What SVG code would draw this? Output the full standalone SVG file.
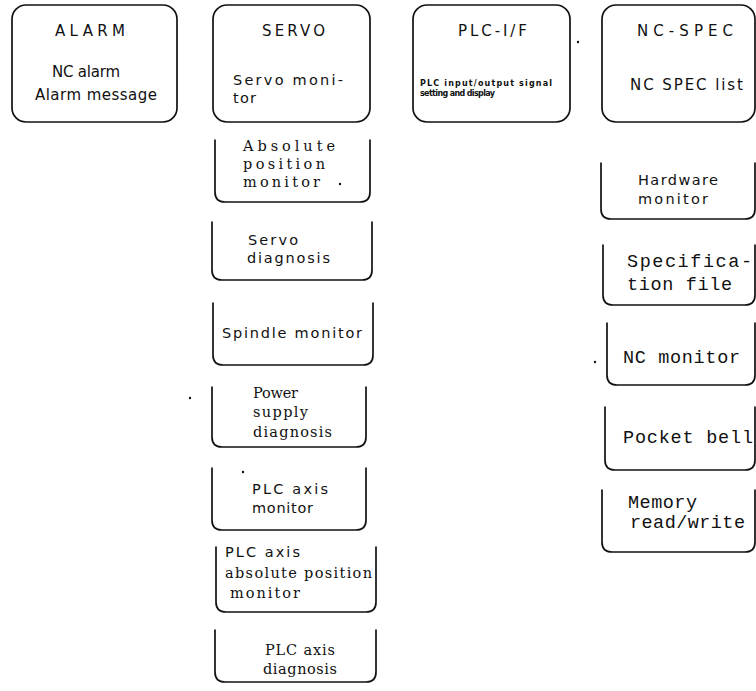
<svg xmlns="http://www.w3.org/2000/svg" width="756" height="691" viewBox="0 0 756 691">
<style>
.box{fill:none;stroke:#111;stroke-width:1.7;stroke-linejoin:round;stroke-linecap:round}
text{fill:#111}
.h{font-family:"DejaVu Sans",sans-serif;font-size:15px}
.a{font-family:"DejaVu Sans",sans-serif;font-size:15px}
.s{font-family:"DejaVu Sans",sans-serif;font-size:14.5px}
.r{font-family:"DejaVu Serif",serif;font-size:14.5px}
.m{font-family:"Liberation Mono",monospace;font-size:18.5px}
.t{font-family:"DejaVu Sans",sans-serif;font-size:8px;font-weight:bold}
.dot{fill:#111}
</style>
<rect width="756" height="691" fill="#fff"/>
<g id="alarm">
<rect class="box" x="12" y="5" width="165" height="117" rx="14"/>
<text class="h" x="55" y="36" textLength="70">ALARM</text>
<text class="a" x="52" y="77" textLength="68">NC alarm</text>
<text class="a" x="35" y="100" textLength="122">Alarm message</text>
</g>
<g id="servo">
<rect class="box" x="213" y="5" width="157" height="117" rx="14"/>
<text class="h" x="262" y="36" textLength="63">SERVO</text>
<text class="s" x="233" y="85" textLength="110">Servo  moni-</text>
<text class="s" x="233" y="103" textLength="23">tor</text>
</g>
<g id="plc-if">
<rect class="box" x="413" y="5" width="157" height="117" rx="14"/>
<text class="h" x="458" y="36" textLength="69">PLC-I/F</text>
<text class="t" x="420" y="86" textLength="132">PLC input/output signal</text>
<text class="t" x="420" y="96" textLength="75">setting and display</text>
</g>
<g id="nc-spec">
<rect class="box" x="602" y="5" width="153" height="117" rx="14"/>
<text class="h" x="637" y="36" textLength="96">NC-SPEC</text>
<text class="a" x="630" y="90" textLength="113">NC SPEC list</text>
</g>
<g id="absolute-position-monitor">
<path class="box" d="M215 140V192Q215 202 225 202H360Q370 202 370 192V140"/>
<text class="r" x="243" y="151" textLength="92">Absolute</text>
<text class="r" x="243" y="169" textLength="82">position</text>
<text class="r" x="243" y="187" textLength="77">monitor</text>
<circle class="dot" cx="340" cy="184" r="1.2"/>
</g>
<g id="servo-diagnosis">
<path class="box" d="M212 222V270Q212 280 222 280H362Q372 280 372 270V222"/>
<text class="s" x="248" y="245" textLength="50">Servo</text>
<text class="s" x="247" y="263" textLength="83">diagnosis</text>
</g>
<g id="spindle-monitor">
<path class="box" d="M213 303V355Q213 365 223 365H363Q373 365 373 355V303"/>
<text class="s" x="222" y="338" textLength="140">Spindle monitor</text>
</g>
<g id="power-supply-diagnosis">
<path class="box" d="M212 387V437Q212 447 222 447H356Q366 447 366 437V387"/>
<text class="r" x="253" y="398" textLength="45">Power</text>
<text class="r" x="253" y="417" textLength="55">supply</text>
<text class="r" x="253" y="437" textLength="79">diagnosis</text>
<circle class="dot" cx="190" cy="398" r="1.2"/>
</g>
<g id="plc-axis-monitor">
<path class="box" d="M212 468V520Q212 530 222 530H356Q366 530 366 520V468"/>
<text class="s" x="252" y="494" textLength="76">PLC axis</text>
<text class="s" x="252" y="513" textLength="61">monitor</text>
<circle class="dot" cx="243" cy="472" r="1.2"/>
</g>
<g id="plc-axis-absolute-position-monitor">
<path class="box" d="M216 547V602Q216 612 226 612H366Q376 612 376 602V547"/>
<text class="s" x="225" y="557" textLength="75">PLC axis</text>
<text class="r" x="225" y="578" textLength="147">absolute position</text>
<text class="r" x="230" y="598" textLength="70">monitor</text>
</g>
<g id="plc-axis-diagnosis">
<path class="box" d="M215 630V672Q215 682 225 682H366Q376 682 376 672V630"/>
<text class="r" x="265" y="655" textLength="70">PLC axis</text>
<text class="r" x="263" y="674" textLength="74">diagnosis</text>
</g>
<g id="hardware-monitor">
<path class="box" d="M601 163V209Q601 219 611 219H745Q755 219 755 209V163"/>
<text class="s" x="638" y="185" textLength="80">Hardware</text>
<text class="s" x="638" y="204" textLength="70">monitor</text>
</g>
<g id="specification-file">
<path class="box" d="M603 245V295Q603 305 613 305H745Q755 305 755 295V245"/>
<text class="m" x="627" y="267" textLength="125">Specifica-</text>
<text class="m" x="627" y="290" textLength="105">tion file</text>
</g>
<g id="nc-monitor">
<path class="box" d="M607 323V375Q607 385 617 385H745Q755 385 755 375V323"/>
<text class="m" x="623" y="363" textLength="117">NC monitor</text>
<circle class="dot" cx="595" cy="362" r="1.2"/>
</g>
<g id="pocket-bell">
<path class="box" d="M605 407V460Q605 470 615 470H745Q755 470 755 460V407"/>
<text class="m" x="623" y="443" textLength="130">Pocket bell</text>
</g>
<g id="memory-read-write">
<path class="box" d="M602 490V542Q602 552 612 552H745Q755 552 755 542V490"/>
<text class="m" x="628" y="508" textLength="69">Memory</text>
<text class="m" x="630" y="528" textLength="115">read/write</text>
</g>
<g id="marks">
<circle class="dot" cx="578" cy="42" r="1.2"/>
</g>
<g id="connectors"/>
</svg>
